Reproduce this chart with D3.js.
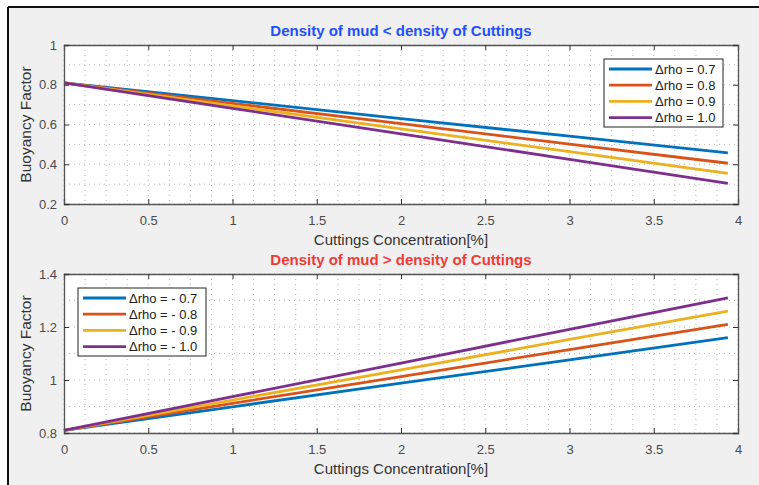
<!DOCTYPE html>
<html>
<head>
<meta charset="utf-8">
<script src="https://cdn.jsdelivr.net/npm/d3@7"></script>
<style>
  body { margin: 0; background: #fff; }
  svg { display: block; font-family: "Liberation Sans", Arial, sans-serif; }
</style>
</head>
<body>
<script>
/* ---- data ---- */
var conc = [0, 1, 2, 3, 3.94];            // cuttings concentration [%]

var topNames = ["\u0394rho = 0.7", "\u0394rho = 0.8", "\u0394rho = 0.9", "\u0394rho = 1.0"];
var topRho07 = [0.809, 0.720, 0.630, 0.541, 0.457];
var topRho08 = [0.809, 0.706, 0.604, 0.501, 0.405];
var topRho09 = [0.809, 0.694, 0.578, 0.463, 0.354];
var topRho10 = [0.809, 0.681, 0.553, 0.425, 0.304];

var botNames = ["\u0394rho = - 0.7", "\u0394rho = - 0.8", "\u0394rho = - 0.9", "\u0394rho = - 1.0"];
var botRho07 = [0.810, 0.899, 0.988, 1.076, 1.160];
var botRho08 = [0.810, 0.912, 1.013, 1.115, 1.210];
var botRho09 = [0.810, 0.924, 1.038, 1.153, 1.260];
var botRho10 = [0.810, 0.937, 1.064, 1.191, 1.310];

var xTicks = [0, 0.5, 1, 1.5, 2, 2.5, 3, 3.5, 4];
var topYTicks = [0.2, 0.4, 0.6, 0.8, 1];
var botYTicks = [0.8, 1, 1.2, 1.4];

var colors = ["#0072BD", "#D95319", "#EDB120", "#7E2F8E"];

var W = 759, H = 485;
var svg = d3.select("body").append("svg")
    .attr("width", W)
    .attr("height", H);

// figure background + frame (top and left edges only visible)
svg.append("rect").attr("width", W).attr("height", H).attr("fill", "#fff");
svg.append("rect").attr("x", 8).attr("y", 7).attr("width", W - 8).attr("height", H - 7).attr("fill", "#f0f0f0");
svg.append("line").attr("x1", 8).attr("x2", W).attr("y1", 7).attr("y2", 7)
    .attr("stroke", "#111").attr("stroke-width", 2);
svg.append("line").attr("x1", 8).attr("x2", 8).attr("y1", 7).attr("y2", H)
    .attr("stroke", "#111").attr("stroke-width", 2);

function drawPanel(opt) {
    var left = 64, right = 738;
    var x = d3.scaleLinear().domain([0, 4]).range([left, right]);
    var y = d3.scaleLinear().domain(opt.yDomain).range([opt.bottom, opt.top]);
    var g = svg.append("g");

    g.append("rect")
        .attr("x", left).attr("y", opt.top)
        .attr("width", right - left).attr("height", opt.bottom - opt.top)
        .attr("fill", "#fff");

    // dotted grid (major + minor)
    var xGrid = d3.range(0, 4.0001, 0.125);
    var yGrid = d3.range(opt.yDomain[0], opt.yDomain[1] + 0.0001, 0.1);
    g.selectAll(".gx").data(xGrid).enter().append("line")
        .attr("x1", function(d) { return x(d); })
        .attr("x2", function(d) { return x(d); })
        .attr("y1", opt.top).attr("y2", opt.bottom)
        .attr("stroke", "#b8b8b8").attr("stroke-width", 1)
        .attr("stroke-dasharray", "1,4");
    g.selectAll(".gy").data(yGrid).enter().append("line")
        .attr("y1", function(d) { return y(d); })
        .attr("y2", function(d) { return y(d); })
        .attr("x1", left).attr("x2", right)
        .attr("stroke", "#b8b8b8").attr("stroke-width", 1)
        .attr("stroke-dasharray", "1,4");

    // series
    var line = d3.line()
        .x(function(d) { return x(d[0]); })
        .y(function(d) { return y(d[1]); });
    opt.series.forEach(function(s, i) {
        g.append("path")
            .datum(conc.map(function(c, j) { return [c, s[j]]; }))
            .attr("d", line)
            .attr("fill", "none")
            .attr("stroke", colors[i])
            .attr("stroke-width", 2.8);
    });

    // axes box with inward ticks
    var axB = d3.axisBottom(x).tickValues(xTicks).tickSize(-5).tickPadding(12).tickFormat(d3.format("~g"));
    var axT = d3.axisTop(x).tickValues(xTicks).tickSize(-5).tickFormat("");
    var axL = d3.axisLeft(y).tickValues(opt.yTicks).tickSize(-5).tickPadding(7).tickFormat(d3.format("~g"));
    var axR = d3.axisRight(y).tickValues(opt.yTicks).tickSize(-5).tickFormat("");
    [[axB, "translate(0," + opt.bottom + ")"], [axT, "translate(0," + opt.top + ")"],
     [axL, "translate(" + left + ",0)"], [axR, "translate(" + right + ",0)"]].forEach(function(a) {
        var ag = g.append("g").attr("transform", a[1]).call(a[0]);
        ag.select(".domain").attr("stroke", "#555").attr("stroke-width", 1.3);
        ag.selectAll(".tick line").attr("stroke", "#333");
        ag.selectAll("text").attr("fill", "#4a4a4a").attr("font-size", 13)
            .attr("font-family", "Liberation Sans, Arial, sans-serif");
    });

    // title + labels
    g.append("text").attr("x", 401).attr("y", opt.titleY)
        .attr("text-anchor", "middle").attr("font-weight", "bold").attr("font-size", 15)
        .attr("fill", opt.titleColor).text(opt.title);
    g.append("text").attr("x", 401).attr("y", opt.bottom + 41)
        .attr("text-anchor", "middle").attr("font-size", 15).attr("fill", "#333")
        .text("Cuttings Concentration[%]");
    g.append("text")
        .attr("transform", "translate(31," + ((opt.top + opt.bottom) / 2) + ") rotate(-90)")
        .attr("text-anchor", "middle").attr("font-size", 15.5).attr("fill", "#333")
        .text("Buoyancy Factor");

    // legend
    var lg = g.append("g").attr("transform", "translate(" + opt.legX + "," + opt.legY + ")");
    lg.append("rect").attr("width", opt.legW).attr("height", 68)
        .attr("fill", "#fff").attr("stroke", "#222").attr("stroke-width", 1);
    opt.names.forEach(function(n, i) {
        var ry = 10 + i * 16.2;
        lg.append("line").attr("x1", 5).attr("x2", 48).attr("y1", ry).attr("y2", ry)
            .attr("stroke", colors[i]).attr("stroke-width", 2.8);
        lg.append("text").attr("x", 51).attr("y", ry + 4.5)
            .attr("font-size", 13).attr("fill", "#222").text(n);
    });
}

drawPanel({
    top: 45, bottom: 204, yDomain: [0.2, 1], yTicks: topYTicks,
    series: [topRho07, topRho08, topRho09, topRho10], names: topNames,
    title: "Density of mud < density of Cuttings", titleColor: "#1f4fff", titleY: 36,
    legX: 604, legY: 59, legW: 119
});
drawPanel({
    top: 274, bottom: 433, yDomain: [0.8, 1.4], yTicks: botYTicks,
    series: [botRho07, botRho08, botRho09, botRho10], names: botNames,
    title: "Density of mud > density of Cuttings", titleColor: "#f03b35", titleY: 265,
    legX: 78, legY: 288, legW: 128
});
</script>
</body>
</html>
